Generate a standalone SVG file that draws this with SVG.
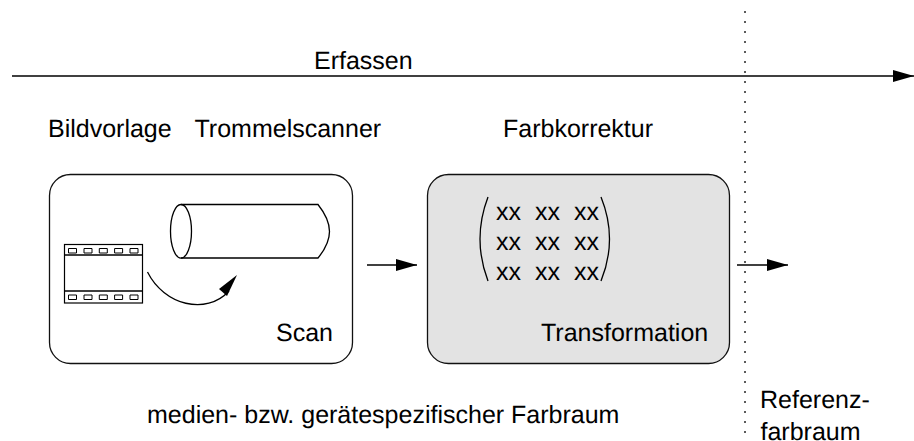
<svg xmlns="http://www.w3.org/2000/svg" width="914" height="441" viewBox="0 0 914 441">
<style>
text{font-family:"Liberation Sans",Arial,sans-serif;font-size:25px;fill:#000;text-rendering:geometricPrecision}
.l{fill:none;stroke:#000;stroke-width:1.3}
.box{stroke:#111;stroke-width:1.3}
.f{fill:#fff;stroke:#000;stroke-width:1.2}
</style>
<defs><marker id="a" markerUnits="userSpaceOnUse" markerWidth="22" markerHeight="14" refX="21" refY="6" orient="auto"><path d="M0 0L21 6L0 12Z" fill="#000"/></marker></defs>
<rect width="914" height="441" fill="#fff"/>
<g id="connectors">
<path class="l" d="M12 76H914" marker-end="url(#a)"/>
<path class="l" d="M367 265H417" marker-end="url(#a)"/>
<path class="l" d="M737 265H788" marker-end="url(#a)"/>
<path d="M745 11V441" fill="none" stroke="#333" stroke-width="1.6" stroke-dasharray="2 8"/>
</g>
<g id="erfassen"><text x="314" y="69">Erfassen</text></g>
<g id="bildvorlage"><text x="48" y="137">Bildvorlage</text></g>
<g id="trommelscanner"><text x="194.500" y="137">Trommelscanner</text></g>
<g id="farbkorrektur"><text x="503" y="137">Farbkorrektur</text></g>
<g id="scan">
<rect class="box" x="49.500" y="174.500" width="303" height="189" rx="21" fill="#fff"/>
<text x="276" y="341">Scan</text>
<g id="film">
<rect class="f" x="64.500" y="244.500" width="78" height="58.500"/>
<path class="l" d="M64.500 255H142.500M64.500 291H142.500"/>
<path d="M68.500 248.500h8v4.500h-8zM84 248.500h8v4.500h-8zM99.300 248.500h8v4.500h-8zM114.600 248.500h8v4.500h-8zM130 248.500h8v4.500h-8zM68.500 295h8v4.500h-8zM84 295h8v4.500h-8zM99.300 295h8v4.500h-8zM114.600 295h8v4.500h-8zM130 295h8v4.500h-8z" fill="#fff" stroke="#000" stroke-width="1"/>
</g>
<g id="zylinder">
<path class="l" d="M181 204.500H318Q329.500 219 329.500 231.500T318 258H181"/>
<ellipse class="l" cx="181" cy="231.300" rx="10.500" ry="26.800"/>
</g>
<path class="l" d="M147.500 272C164 305 206 316 229 291"/>
<path d="M237 275L219 289L227 296Z" fill="#000"/>
</g>
<g id="transformation">
<rect class="box" x="427.500" y="174.500" width="302" height="189" rx="21" fill="#e3e3e3"/>
<text x="541" y="341">Transformation</text>
<text x="496" y="220">xx</text><text x="535" y="220">xx</text><text x="574" y="220">xx</text>
<text x="496" y="250">xx</text><text x="535" y="250">xx</text><text x="574" y="250">xx</text>
<text x="496" y="280">xx</text><text x="535" y="280">xx</text><text x="574" y="280">xx</text>
<path class="l" d="M488 197Q472 239 488 281M601 197Q618 239 601 281"/>
</g>
<g id="farbraum"><text x="147" y="423">medien- bzw. gerätespezifischer Farbraum</text></g>
<g id="referenz"><text x="760" y="408">Referenz-</text><text x="760.500" y="440">farbraum</text></g>
</svg>
